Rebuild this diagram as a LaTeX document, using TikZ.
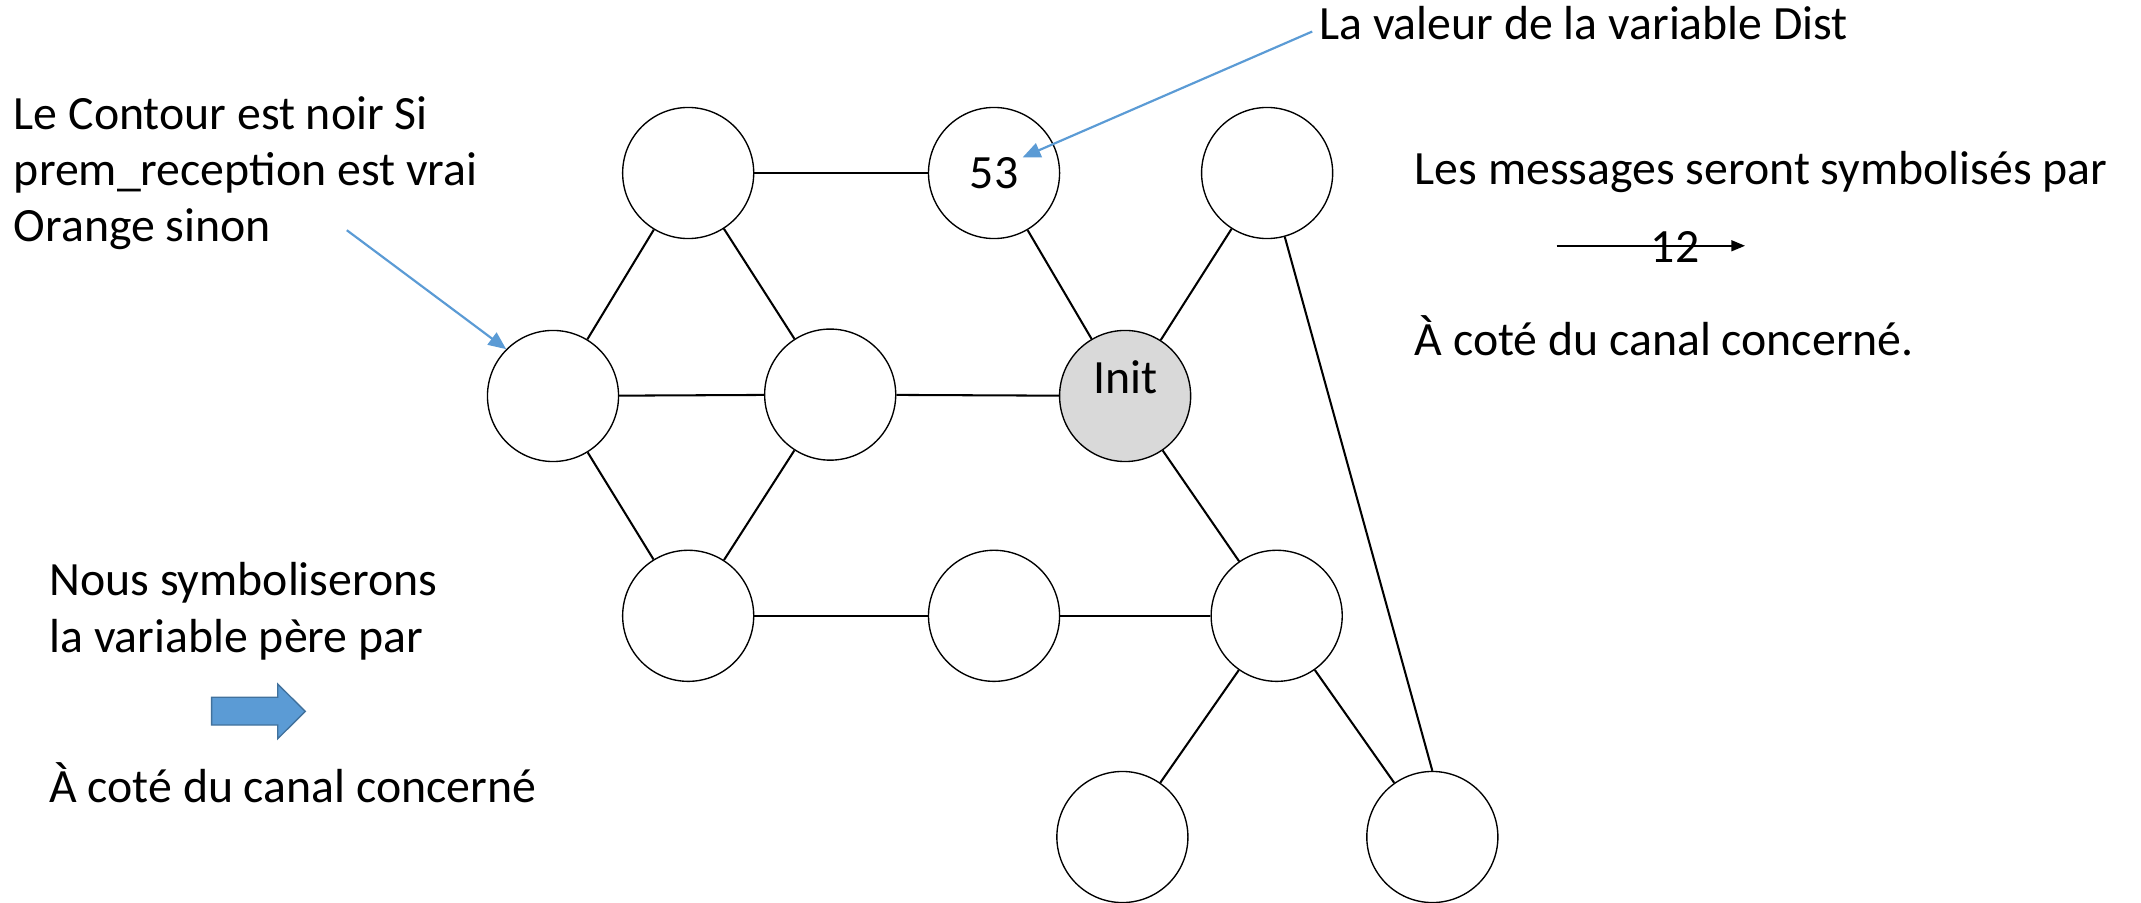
\documentclass[tikz,border=0pt]{standalone}
\usepackage{fontspec}
\setmainfont{Carlito}
\usetikzlibrary{arrows.meta}
\definecolor{oblue}{HTML}{5B9BD5}
\definecolor{obord}{HTML}{41719C}
\definecolor{initgray}{HTML}{D9D9D9}
\begin{document}
\begin{tikzpicture}[x=1pt,y=1pt,
  vert/.style={circle, draw=black, line width=1pt, minimum size=96pt, inner sep=0pt, fill=white, font=\fontsize{35}{41}\selectfont},
  edge/.style={line width=1.5pt},
  txt/.style={inner sep=0pt, font=\fontsize{35}{41}\selectfont},
  callout/.style={draw=oblue, line width=1.6pt, -{Triangle[length=13pt,width=11pt]}},
  msg/.style={line width=1.2pt, -{Triangle[length=10pt,width=8pt]}},
  parentarrow/.style={fill=oblue, draw=obord, line width=1pt, line join=miter}]
\useasboundingbox (0,0) rectangle (1568,-660.6);

% vertices
\node[vert] (A) at (504,-126.7) {};
\node[vert] (B) at (728,-126.7) {53};
\node[vert] (C) at (928,-126.7) {};
\node[vert] (D) at (405,-290) {};
\node[vert] (E) at (608,-289) {};
\node[vert, fill=initgray, text height=0pt, text depth=3pt] (F) at (824,-290) {Init};
\node[vert] (G) at (504,-451) {};
\node[vert] (H) at (728,-451) {};
\node[vert] (I) at (935,-451) {};
\node[vert] (J) at (822,-613) {};
\node[vert] (K) at (1049,-613) {};

% channels
\draw[edge] (A) -- (B);
\draw[edge] (A) -- (D);
\draw[edge] (A) -- (E);
\draw[edge] (D) -- (E);
\draw[edge] (D) -- (G);
\draw[edge] (E) -- (G);
\draw[edge] (E) -- (F);
\draw[edge] (B) -- (F);
\draw[edge] (C) -- (F);
\draw[edge] (C) -- (K.north);
\draw[edge] (F) -- (I);
\draw[edge] (G) -- (H);
\draw[edge] (H) -- (I);
\draw[edge] (I) -- (J);
\draw[edge] (I) -- (K);

% left annotation
\node[txt, anchor=base west] (l1) at (10,-95) {Le Contour est noir Si};
\node[txt, anchor=base west] (l2) at (10,-136) {prem\_reception est vrai};
\node[txt, anchor=base west] (l3) at (10,-177) {Orange sinon};
\coordinate (c1) at (254,-168.6);
\draw[callout] (c1) -- (D.north west);

% Dist annotation
\node[txt, anchor=base west] (dist) at (966,-28.6) {La valeur de la variable Dist};
\draw[callout] ([shift={(-5,5.5)}]dist.base west) -- ([shift={(21,11.5)}]B.center);

% messages legend
\node[txt, anchor=base west] (m0) at (1036,-134.9) {Les messages seront symbolisés par};
\coordinate (m1) at (1140,-180);
\coordinate (m2) at (1278,-180);
\draw[msg] (m1) -- (m2);
\node[txt] (m12) at (1226.7,-181) {12};
\node[txt, anchor=base west] (m3) at (1036,-260.4) {À coté du canal concerné.};

% parent legend
\node[txt, anchor=base west] (p1) at (36,-436) {Nous symboliserons};
\node[txt, anchor=base west] (p2) at (36,-478) {la variable père par};
\draw[parentarrow] (155,-510.6) -- (203.4,-510.6) -- (203.4,-501) -- (223.6,-521) -- (203.4,-541) -- (203.4,-531) -- (155,-531) -- cycle;
\node[txt, anchor=base west] (p3) at (36,-588) {À coté du canal concerné};
\end{tikzpicture}
\end{document}
